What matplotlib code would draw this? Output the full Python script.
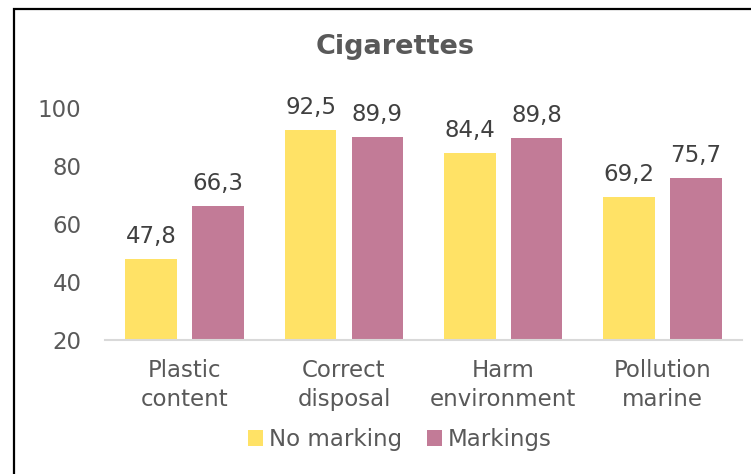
import matplotlib
matplotlib.use("Agg")
import matplotlib.pyplot as plt
import numpy as np
from matplotlib.patches import Rectangle

categories = ["Plastic\ncontent", "Correct\ndisposal", "Harm\nenvironment", "Pollution\nmarine"]
no_marking = [47.8, 92.5, 84.4, 69.2]
markings = [66.3, 89.9, 89.8, 75.7]
series_names = ["No marking", "Markings"]
y_ticks = [20, 40, 60, 80, 100]

YELLOW = "#FFE266"
MAUVE = "#C27B97"
TEXT = "#595959"
LABEL = "#404040"
FS = 16.5

plt.rcParams["font.family"] = ["DejaVu Sans"]

fig = plt.figure(figsize=(7.51, 4.74), dpi=100)
ax = fig.add_axes([0.140, 0.283, 0.848, 0.489])

x = np.arange(len(categories))
width = 0.325
offset = 0.21
b1 = ax.bar(x - offset, no_marking, width, bottom=0, color=YELLOW, label=series_names[0], zorder=2)
b2 = ax.bar(x + offset, markings, width, bottom=0, color=MAUVE, label=series_names[1], zorder=2)

for bars, vals in ((b1, no_marking), (b2, markings)):
    for rect, v in zip(bars, vals):
        ax.annotate(f"{v:.1f}".replace(".", ","),
                    (rect.get_x() + rect.get_width() / 2, v),
                    xytext=(0, 8), textcoords="offset points",
                    ha="center", va="bottom", fontsize=FS, color=LABEL,
                    annotation_clip=False)

ax.set_ylim(20, 100)
ax.set_xlim(-0.5, len(categories) - 0.5)
ax.set_yticks(y_ticks)
ax.set_xticks(x)
ax.set_xticklabels(categories, fontsize=FS, color=TEXT, linespacing=1.32)
ax.tick_params(axis="y", labelsize=FS, labelcolor=TEXT, length=0, pad=17)
ax.tick_params(axis="x", length=0, pad=14)

for side in ("top", "right", "left"):
    ax.spines[side].set_visible(False)
ax.spines["bottom"].set_color("#D9D9D9")
ax.spines["bottom"].set_linewidth(1.5)

fig.text(0.526, 0.90, "Cigarettes", ha="center", va="center",
         fontsize=19.5, fontweight="bold", color=TEXT)

ax.legend(loc="center", bbox_to_anchor=(0.463, -0.43), ncol=2, frameon=False,
          fontsize=FS, labelcolor=TEXT, handlelength=0.65, handleheight=0.65,
          handletextpad=0.25, columnspacing=1.1, borderpad=0)

# outer frame of the chart area
fig.patches.append(Rectangle((14 / 751, -0.1), 2.0, 1.1 - 9 / 474,
                             transform=fig.transFigure, fill=False,
                             edgecolor="black", linewidth=1.6))

fig.savefig("out.png", dpi=100)
